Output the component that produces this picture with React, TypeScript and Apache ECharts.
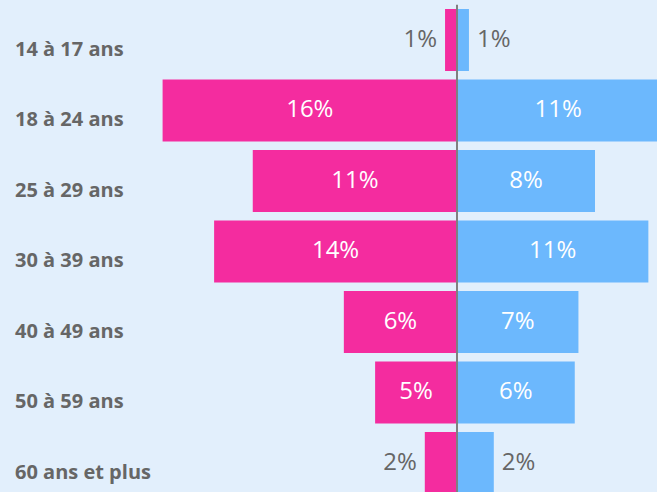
import React, { useEffect, useRef } from "react";
import * as echarts from "echarts";

const categories = [
  "14 à 17 ans",
  "18 à 24 ans",
  "25 à 29 ans",
  "30 à 39 ans",
  "40 à 49 ans",
  "50 à 59 ans",
  "60 ans et plus",
];
// bar lengths (percent)
const pinkValues = [0.65, 16.0, 11.1, 13.2, 6.15, 4.45, 1.75];
const blueValues = [0.65, 11.0, 7.5, 10.4, 6.6, 6.4, 2.0];
// displayed labels
const pinkLabels = ["1%", "16%", "11%", "14%", "6%", "5%", "2%"];
const blueLabels = ["1%", "11%", "8%", "11%", "7%", "6%", "2%"];

const PINK = "#F42C9F";
const BLUE = "#6CB8FD";
const BG = "#E2EFFC";
const GRAY = "#666666";

const W = 700;
const H = 530;
const PX_PER_UNIT = 18.4;
const ZERO_X = 457;
const X_MIN = -17;
const X_MAX = 12;
const GRID_LEFT = ZERO_X + X_MIN * PX_PER_UNIT;
const GRID_RIGHT = W - (ZERO_X + X_MAX * PX_PER_UNIT);
const GRID_TOP = 4.75;
const GRID_HEIGHT = 493.5;
const LABEL_X = 15;

export default function App() {
  const ref = useRef<HTMLDivElement>(null);
  useEffect(() => {
    if (!ref.current) return;
    const chart = echarts.init(ref.current, undefined, { renderer: "svg" });
    const makeData = (vals: number[], sign: number, side: "left" | "right") =>
      vals.map((v) => {
        const outside = v < 3;
        return {
          value: sign * v,
          label: outside
            ? { position: side, color: GRAY, distance: 8 }
            : { position: "inside", color: "#ffffff" },
        };
      });
    const valueLabel = {
      show: true,
      fontSize: 24,
      fontFamily: "'Open Sans', 'Noto Sans', sans-serif",
      offset: [0, -3],
    };
    chart.setOption({
      animation: false,
      backgroundColor: BG,
      grid: {
        left: GRID_LEFT,
        right: GRID_RIGHT,
        top: GRID_TOP,
        height: GRID_HEIGHT,
        containLabel: false,
      },
      xAxis: {
        type: "value",
        min: X_MIN,
        max: X_MAX,
        show: false,
        splitLine: { show: false },
      },
      yAxis: {
        type: "category",
        data: categories,
        inverse: true,
        axisLine: { show: false },
        axisTick: { show: false },
        splitLine: { show: false },
        axisLabel: {
          align: "left",
          verticalAlign: "top",
          lineHeight: 16,
          margin: GRID_LEFT - LABEL_X,
          color: GRAY,
          fontWeight: "bold",
          fontSize: 20,
          fontFamily: "'Open Sans', 'Noto Sans', sans-serif",
        },
      },
      series: [
        {
          type: "bar",
          stack: "total",
          barCategoryGap: "12%",
          itemStyle: { color: PINK },
          data: makeData(pinkValues, -1, "left"),
          label: {
            ...valueLabel,
            formatter: (p: any) => pinkLabels[p.dataIndex],
          },
        },
        {
          type: "bar",
          stack: "total",
          barCategoryGap: "12%",
          itemStyle: { color: BLUE },
          data: makeData(blueValues, 1, "right"),
          label: {
            ...valueLabel,
            formatter: (p: any) => blueLabels[p.dataIndex],
          },
          markLine: {
            silent: true,
            symbol: "none",
            label: { show: false },
            lineStyle: { color: "#808080", width: 2, type: "solid" },
            data: [{ xAxis: 0 }],
          },
        },
      ],
    });
    return () => chart.dispose();
  }, []);
  return (
    <div
      style={{
        position: "fixed",
        left: 0,
        top: 0,
        width: 657,
        height: 492,
        overflow: "hidden",
        background: BG,
      }}
    >
      <div ref={ref} style={{ width: W, height: H }} />
    </div>
  );
}
